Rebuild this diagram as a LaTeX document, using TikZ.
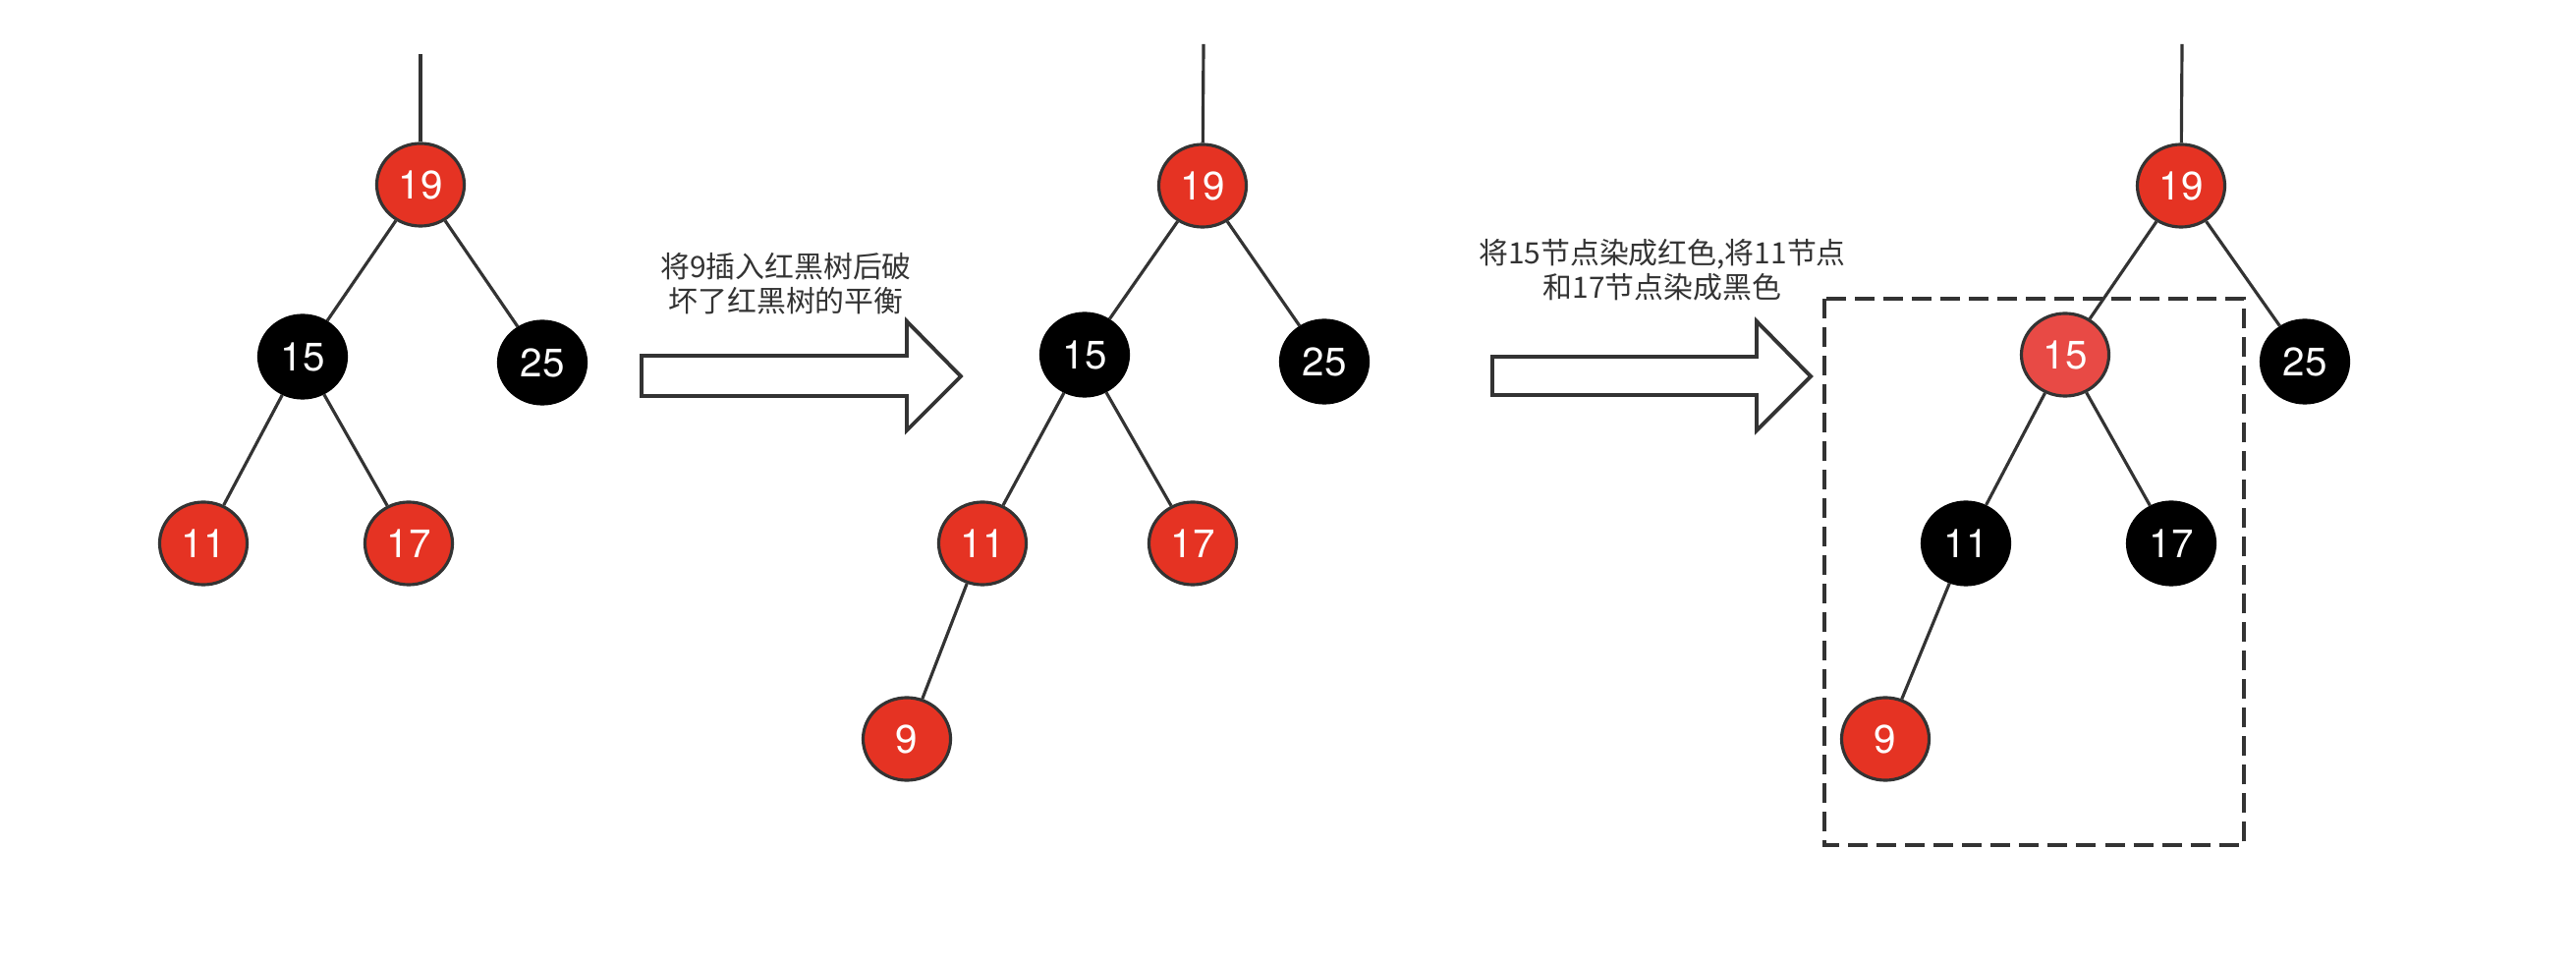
\documentclass[tikz,border=0pt]{standalone}
\usepackage{fontspec}
\setmainfont{TeX Gyre Heros}
\newfontfamily\cjk{Noto Sans CJK SC}
\usetikzlibrary{shapes.geometric}
\definecolor{rbred}{HTML}{E53323}
\definecolor{rblight}{HTML}{E84A45}
\definecolor{ink}{HTML}{333333}
\begin{document}
\begin{tikzpicture}[x=0.01cm,y=-0.01cm,
  rbnode/.style={ellipse, minimum width=0.89cm, minimum height=0.84cm, inner sep=0pt,
    text=white, font=\fontsize{11.5}{13}\selectfont},
  rednode/.style={rbnode, fill=rbred, draw=ink, line width=0.9pt},
  lightnode/.style={rbnode, fill=rblight, draw=ink, line width=0.9pt},
  blknode/.style={rbnode, fill=black, draw=black, line width=0.9pt},
  link/.style={draw=ink, line width=0.9pt},
  caption/.style={align=center, text=ink, font=\cjk\fontsize{8.5}{9.9}\selectfont},
  bigarrow/.style={draw=ink, line width=1.1pt, fill=white, line join=miter},
  focusbox/.style={draw=ink, line width=1.1pt, dash pattern=on 0.2cm off 0.09cm}
]
\useasboundingbox (0,0) rectangle (2622,980);

% ---- tree before insertion ----
\coordinate (atop) at (428,55);
\node[rednode] (a19) at (428,188) {19};
\node[blknode] (a15) at (308,363) {15};
\node[blknode] (a25) at (552,369) {25};
\node[rednode] (a11) at (207,553) {11};
\node[rednode] (a17) at (416,553) {17};
\draw[link] (atop) -- (a19);
\draw[link] (a19) -- (a15);
\draw[link] (a19) -- (a25);
\draw[link] (a15) -- (a11);
\draw[link] (a15) -- (a17);

% ---- first step ----
\node[caption] (t1) at (800,289) {将9插入红黑树后破\\坏了红黑树的平衡};
\draw[bigarrow] (653,362) -- (923,362) -- (923,327) -- (978,383) -- (923,438)
  -- (923,403) -- (653,403) -- cycle;

% ---- tree after inserting 9 ----
\coordinate (btop) at (1225,45);
\node[rednode] (b19) at (1224,189) {19};
\node[blknode] (b15) at (1104,361) {15};
\node[blknode] (b25) at (1348,368) {25};
\node[rednode] (b11) at (1000,553) {11};
\node[rednode] (b17) at (1214,553) {17};
\node[rednode] (b9) at (923,752) {9};
\draw[link] (btop) -- (b19);
\draw[link] (b19) -- (b15);
\draw[link] (b19) -- (b25);
\draw[link] (b15) -- (b11);
\draw[link] (b15) -- (b17);
\draw[link] (b11) -- (b9);

% ---- second step ----
\node[caption] (t2) at (1692,275) {将15节点染成红色,将11节点\\和17节点染成黑色};
\draw[bigarrow] (1519,363) -- (1788,363) -- (1788,327) -- (1843,383) -- (1788,438)
  -- (1788,402) -- (1519,402) -- cycle;

% ---- recoloured tree ----
\draw[focusbox] (1857,304) rectangle (2284,860);
\coordinate (ctop) at (2221,45);
\node[rednode] (c19) at (2220,189) {19};
\node[lightnode] (c15) at (2102,361) {15};
\node[blknode] (c25) at (2346,368) {25};
\node[blknode] (c11) at (2001,553) {11};
\node[blknode] (c17) at (2210,553) {17};
\node[rednode] (c9) at (1919,752) {9};
\draw[link] (ctop) -- (c19);
\draw[link] (c19) -- (c15);
\draw[link] (c19) -- (c25);
\draw[link] (c15) -- (c11);
\draw[link] (c15) -- (c17);
\draw[link] (c11) -- (c9);
\end{tikzpicture}
\end{document}
